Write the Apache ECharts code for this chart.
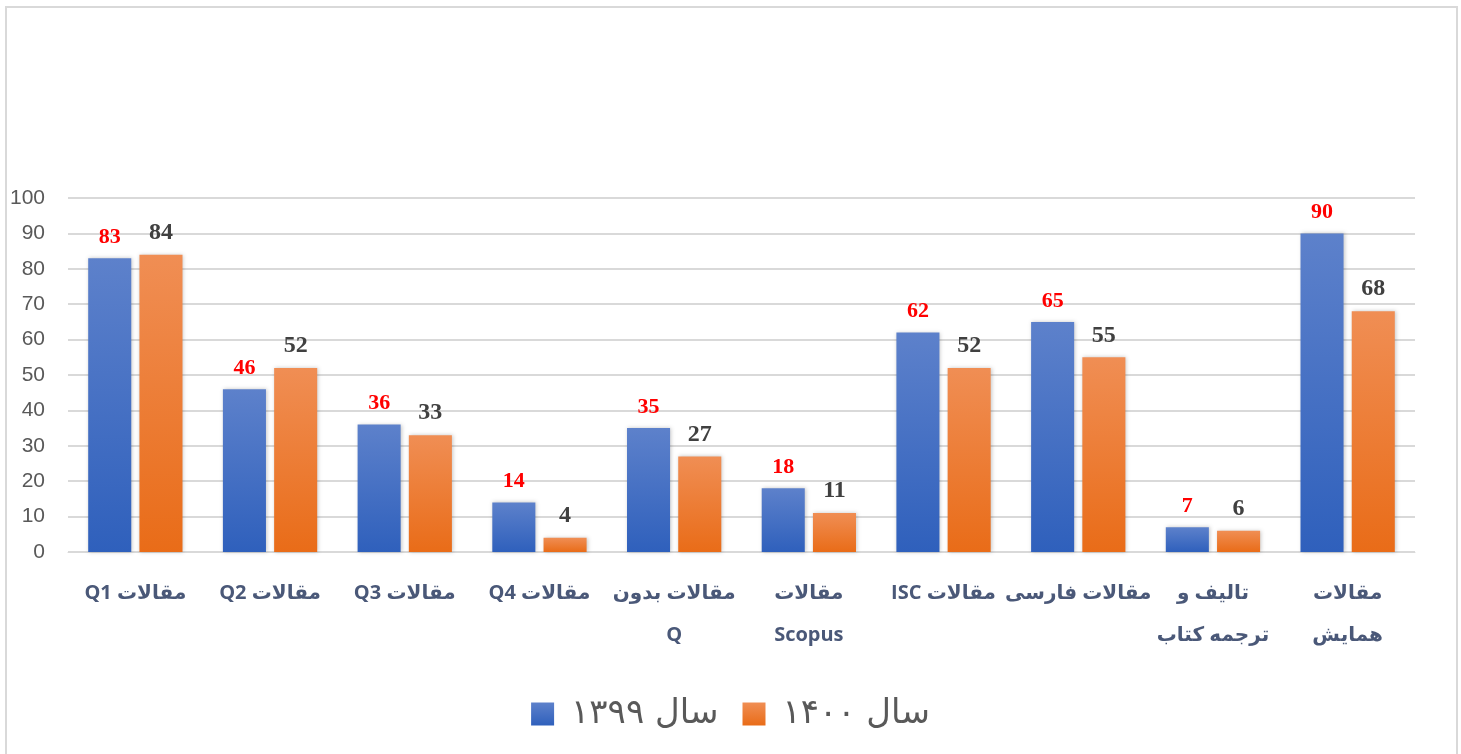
<!DOCTYPE html>
<html>
<head>
<meta charset="utf-8">
<script src="https://cdn.jsdelivr.net/npm/echarts@6/dist/echarts.min.js"></script>
<style>
  html, body { margin: 0; padding: 0; background: #fff; }
  #chart-panel { width: 1461px; height: 754px; }
</style>
</head>
<body>
<div id="chart-panel"></div>
<script>
// دسته‌ها و مقادیر
var categories = ['مقالات Q1', 'مقالات Q2', 'مقالات Q3', 'مقالات Q4', 'مقالات بدون\nQ',
    'مقالات\nScopus', 'مقالات ISC', 'مقالات فارسی', 'تالیف و\nترجمه کتاب', 'مقالات\nهمایش'];
var seriesNames = ['سال ۱۳۹۹', 'سال ۱۴۰۰'];
var values1399 = [83, 46, 36, 14, 35, 18, 62, 65, 7, 90];
var values1400 = [84, 52, 33, 4, 27, 11, 52, 55, 6, 68];
var yTicks = [0, 100, 10];

// هر خط را راست به چپ کن
function rtl(text) {
    return text.split('\n').map(function (t) {
        return '\u202B' + t + '\u202C';
    }).join('\n');
}

var blueGrad = new echarts.graphic.LinearGradient(0, 0, 0, 1, [
    { offset: 0, color: '#5d81cb' },
    { offset: 1, color: '#2f60bc' }
]);
var orangeGrad = new echarts.graphic.LinearGradient(0, 0, 0, 1, [
    { offset: 0, color: '#f08e54' },
    { offset: 1, color: '#e96c18' }
]);

var barShadow = {
    shadowBlur: 4,
    shadowColor: 'rgba(0,0,0,0.22)',
    shadowOffsetX: 1,
    shadowOffsetY: 0
};

var chartOption = {
    backgroundColor: '#fff',
    animation: false,
    graphic: [{
        type: 'rect',
        shape: { x: 6, y: 7, width: 1451, height: 760 },
        style: { fill: 'none', stroke: '#d9d9d9', lineWidth: 2 },
        silent: true
    }],
    grid: {
        top: 198,
        left: 68,
        right: 46,
        bottom: 202,
        outerBoundsMode: 'none',
        containLabel: false
    },
    legend: {
        bottom: 18,
        left: 'center',
        itemWidth: 23,
        itemHeight: 23,
        itemGap: 24,
        icon: 'rect',
        textStyle: {
            fontFamily: 'DejaVu Sans',
            fontSize: 34,
            color: '#595959',
            padding: [0, 0, 0, 12]
        },
        data: seriesNames
    },
    xAxis: {
        type: 'category',
        data: categories,
        axisLine: { lineStyle: { color: '#d9d9d9', width: 1 } },
        axisTick: { show: false },
        axisLabel: {
            interval: 0,
            margin: 20,
            fontFamily: 'Open Sans, DejaVu Sans',
            fontWeight: 'bold',
            fontSize: 20,
            lineHeight: 42,
            color: '#4a5878',
            formatter: function (v) { return rtl(v); }
        }
    },
    yAxis: {
        type: 'value',
        min: yTicks[0],
        max: yTicks[1],
        interval: yTicks[2],
        axisLine: { show: false },
        axisTick: { show: false },
        splitLine: { lineStyle: { color: '#d9d9d9', width: 2 } },
        axisLabel: {
            margin: 23,
            fontFamily: 'Liberation Sans, Arial',
            fontSize: 21,
            color: '#595959'
        }
    },
    series: [{
        name: seriesNames[0],
        type: 'bar',
        data: values1399,
        barGap: '19%',
        barCategoryGap: '30%',
        itemStyle: Object.assign({ color: blueGrad }, barShadow),
        label: {
            show: true,
            position: 'top',
            distance: 10,
            fontFamily: 'Liberation Serif, Times New Roman',
            fontWeight: 'bold',
            fontSize: 22,
            color: '#ff0000'
        }
    }, {
        name: seriesNames[1],
        type: 'bar',
        data: values1400,
        itemStyle: Object.assign({ color: orangeGrad }, barShadow),
        label: {
            show: true,
            position: 'top',
            distance: 10,
            fontFamily: 'Liberation Serif, Times New Roman',
            fontWeight: 'bold',
            fontSize: 24,
            color: '#404040'
        }
    }]
};

var myChart = echarts.init(document.getElementById('chart-panel'), null, { renderer: 'canvas' });
myChart.setOption(chartOption);
</script>
</body>
</html>
